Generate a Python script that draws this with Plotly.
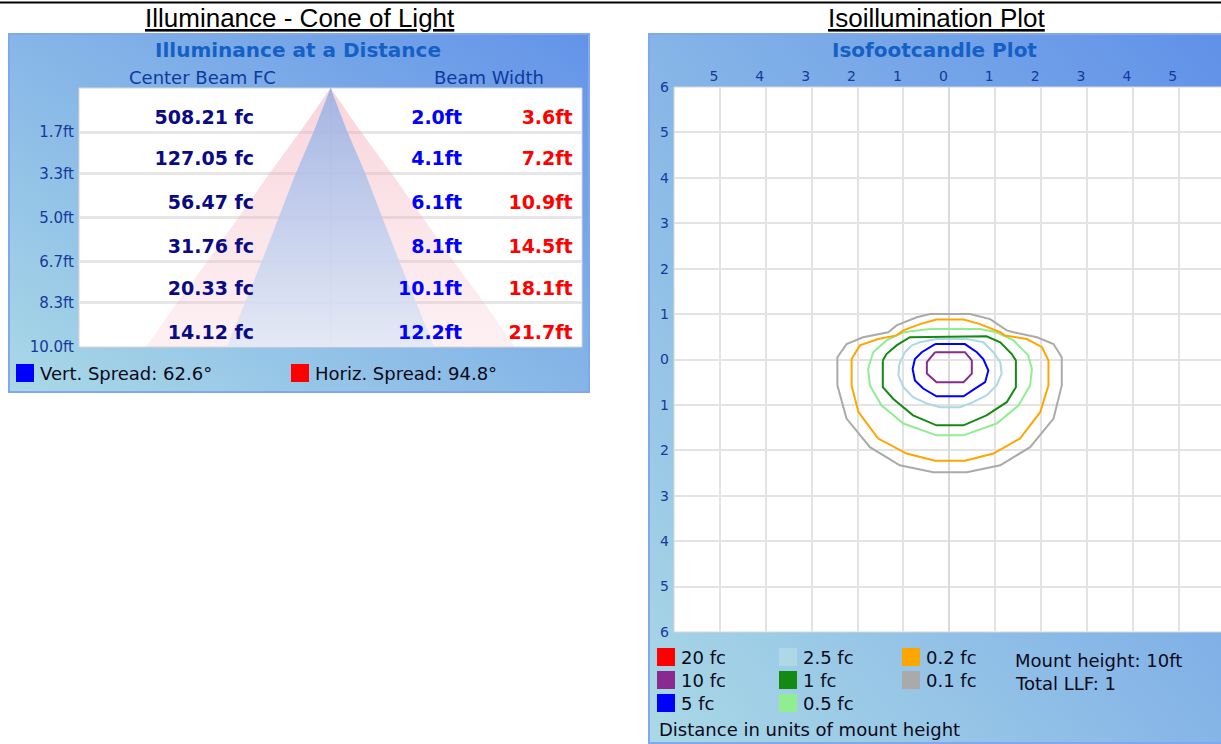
import base64
import plotly.graph_objects as go

# ---------------- data: cone of light ----------------
distances_ft = [1.7, 3.3, 5.0, 6.7, 8.3, 10.0]
distance_labels = ["1.7ft", "3.3ft", "5.0ft", "6.7ft", "8.3ft", "10.0ft"]
center_beam_fc = [508.21, 127.05, 56.47, 31.76, 20.33, 14.12]
beam_width_vert_ft = [2.0, 4.1, 6.1, 8.1, 10.1, 12.2]
beam_width_horiz_ft = [3.6, 7.2, 10.9, 14.5, 18.1, 21.7]
vert_spread_deg = 62.6
horiz_spread_deg = 94.8

# ---------------- data: isofootcandle plot ----------------
iso_levels = ["20 fc", "10 fc", "5 fc", "2.5 fc", "1 fc", "0.5 fc", "0.2 fc", "0.1 fc"]
iso_colors = ["#ff0000", "#8a2a8e", "#0000ff", "#add8e6", "#138a13", "#90ee90", "#ffa500", "#aaaaaa"]
iso_ticks = [-6, -5, -4, -3, -2, -1, 0, 1, 2, 3, 4, 5, 6]
mount_height_ft = 10
total_llf = 1

# traced contour outlines (x, y in units of mount height)
iso_20fc = []
iso_10fc = [(-0.31, 0.16), (0.34, 0.16), (0.49, -0.02), (0.49, -0.31), (0.31, -0.50),
            (-0.28, -0.50), (-0.49, -0.31), (-0.49, -0.06), (-0.31, 0.16)]
iso_5fc = [(-0.31, 0.34), (0.34, 0.34), (0.60, 0.16), (0.74, 0.01), (0.85, -0.24), (0.78, -0.50),
           (0.56, -0.64), (0.31, -0.81), (-0.28, -0.81), (-0.57, -0.64), (-0.75, -0.46),
           (-0.80, -0.21), (-0.75, 0.01), (-0.60, 0.16), (-0.31, 0.34)]
iso_2_5fc = [(-0.82, 0.31), (-0.64, 0.38), (-0.28, 0.45), (0.38, 0.45), (0.74, 0.38), (0.96, 0.16),
             (1.11, -0.06), (1.14, -0.31), (1.03, -0.57), (0.81, -0.79), (0.45, -0.97), (0.23, -1.05),
             (-0.20, -1.05), (-0.49, -0.97), (-0.79, -0.83), (-1.00, -0.61), (-1.11, -0.35),
             (-1.09, -0.10), (-0.97, 0.16), (-0.82, 0.31)]
iso_1fc = [(-1.45, -0.02), (-1.37, 0.12), (-1.15, 0.31), (-0.86, 0.49), (0.81, 0.51), (1.11, 0.38),
           (1.36, 0.12), (1.45, -0.02), (1.45, -0.61), (1.25, -0.94), (0.81, -1.23), (0.31, -1.45),
           (-0.28, -1.45), (-0.79, -1.23), (-1.22, -0.87), (-1.45, -0.61), (-1.45, -0.02)]
iso_0_5fc = [(-1.77, -0.21), (-1.66, 0.16), (-1.37, 0.42), (-1.00, 0.60), (-0.42, 0.67), (0.67, 0.67),
             (1.03, 0.60), (1.40, 0.42), (1.72, 0.09), (1.80, -0.21), (1.76, -0.57), (1.51, -1.01),
             (1.03, -1.41), (0.31, -1.67), (-0.28, -1.67), (-1.00, -1.41), (-1.48, -1.01),
             (-1.73, -0.57), (-1.77, -0.21)]
iso_0_2fc = [(-2.13, -0.57), (-2.13, 0.01), (-1.95, 0.31), (-1.55, 0.45), (-1.15, 0.53), (-1.00, 0.64),
             (-0.64, 0.78), (-0.28, 0.88), (0.31, 0.88), (0.67, 0.78), (1.11, 0.60), (1.21, 0.53),
             (1.69, 0.45), (2.02, 0.27), (2.16, -0.02), (2.16, -0.57), (1.98, -1.16), (1.54, -1.74),
             (0.96, -2.07), (0.34, -2.23), (-0.31, -2.23), (-0.93, -2.07), (-1.55, -1.74),
             (-1.98, -1.16), (-2.13, -0.57)]
iso_0_1fc = [(-2.44, -0.57), (-2.44, 0.05), (-2.24, 0.34), (-1.88, 0.49), (-1.33, 0.60), (-1.15, 0.75),
             (-0.71, 0.93), (-0.42, 1.00), (0.45, 1.00), (0.89, 0.89), (1.25, 0.64), (1.40, 0.60),
             (1.91, 0.49), (2.27, 0.34), (2.45, 0.05), (2.45, -0.57), (2.27, -1.30), (1.76, -1.93),
             (1.11, -2.33), (0.38, -2.48), (-0.35, -2.48), (-1.08, -2.33), (-1.73, -1.93),
             (-2.24, -1.30), (-2.44, -0.57)]
iso_outlines = [iso_20fc, iso_10fc, iso_5fc, iso_2_5fc, iso_1fc, iso_0_5fc, iso_0_2fc, iso_0_1fc]

# ---------------- layout helpers (pixels -> paper) ----------------
W, H = 1221, 744


def px(x):
    return x / W


def py(y):
    return 1 - y / H


UI = "DejaVu Sans"
NAVY_LABEL = "#16399c"


def gradient_svg(w, h, c0, c1):
    svg = (f'<svg xmlns="http://www.w3.org/2000/svg" width="{w}" height="{h}" '
           f'preserveAspectRatio="none" viewBox="0 0 {w} {h}"><defs>'
           f'<linearGradient id="g" x1="0" y1="1" x2="1" y2="0">'
           f'<stop offset="0" stop-color="{c0}"/><stop offset="1" stop-color="{c1}"/>'
           f'</linearGradient></defs><rect width="{w}" height="{h}" fill="url(#g)"/></svg>')
    return "data:image/svg+xml;base64," + base64.b64encode(svg.encode()).decode()


fig = go.Figure()

# ---------------- cone of light ----------------
half_h = [w / 2 for w in beam_width_horiz_ft]
half_v = [w / 2 for w in beam_width_vert_ft]
cone_h_x = [0] + half_h + [-v for v in half_h[::-1]] + [0]
cone_h_y = [0] + distances_ft + distances_ft[::-1] + [0]
cone_v_x = [0] + half_v + [-v for v in half_v[::-1]] + [0]
cone_v_y = [0] + distances_ft + distances_ft[::-1] + [0]

fig.add_trace(go.Scatter(
    x=cone_h_x, y=cone_h_y, mode="lines", fill="toself", line=dict(width=0),
    fillgradient=dict(type="vertical", start=0, stop=10,
                      colorscale=[[0, "rgba(240,160,175,0.45)"], [1, "rgba(245,195,205,0.25)"]]),
    xaxis="x", yaxis="y", hoverinfo="skip", showlegend=False))
fig.add_trace(go.Scatter(
    x=cone_v_x, y=cone_v_y, mode="lines", fill="toself", line=dict(width=0),
    fillgradient=dict(type="vertical", start=0, stop=10,
                      colorscale=[[0, "rgba(150,175,228,0.85)"], [1, "rgba(225,232,246,0.85)"]]),
    xaxis="x", yaxis="y", hoverinfo="skip", showlegend=False))

text_y = [d - 0.5 for d in distances_ft]
fig.add_trace(go.Scatter(
    x=[-4.5] * len(text_y), y=text_y, mode="text", textposition="middle left",
    text=[f"<b>{v:.2f} fc</b>" for v in center_beam_fc],
    textfont=dict(family=UI, size=19, color="#0a0a84"),
    xaxis="x", yaxis="y", hoverinfo="skip", showlegend=False))
fig.add_trace(go.Scatter(
    x=[7.75] * len(text_y), y=text_y, mode="text", textposition="middle left",
    text=[f"<b>{v:.1f}ft</b>" for v in beam_width_vert_ft],
    textfont=dict(family=UI, size=19, color="#0000ff"),
    xaxis="x", yaxis="y", hoverinfo="skip", showlegend=False))
fig.add_trace(go.Scatter(
    x=[14.25] * len(text_y), y=text_y, mode="text", textposition="middle left",
    text=[f"<b>{v:.1f}ft</b>" for v in beam_width_horiz_ft],
    textfont=dict(family=UI, size=19, color="#ff0000"),
    xaxis="x", yaxis="y", hoverinfo="skip", showlegend=False))

# ---------------- isofootcandle contours ----------------
for name, col, pts in zip(iso_levels, iso_colors, iso_outlines):
    fig.add_trace(go.Scatter(
        x=[p[0] for p in pts], y=[p[1] for p in pts], mode="lines", name=name,
        line=dict(color=col, width=2), xaxis="x2", yaxis="y2", showlegend=False))

# ---------------- axes ----------------
fig.update_layout(
    width=W, height=H, autosize=False, margin=dict(l=0, r=0, t=0, b=0, pad=0, autoexpand=False),
    paper_bgcolor="white", plot_bgcolor="rgba(0,0,0,0)",
    xaxis=dict(domain=[px(79), px(582)], range=[-14.8, 14.8], tickvals=[0], showticklabels=False,
               showgrid=True, gridcolor="#e4e4e4", gridwidth=2, zeroline=False, automargin=False),
    yaxis=dict(domain=[py(347), py(88)], range=[10, 0], tickvals=distances_ft, ticktext=distance_labels,
               showgrid=True, gridcolor="#e6e6e6", gridwidth=3, zeroline=False, ticks="", automargin=False,
               tickfont=dict(family=UI, size=15, color=NAVY_LABEL), ticklabelstandoff=4),
    xaxis2=dict(domain=[px(674), 1.0], range=[-6, 5.92], side="top", anchor="y2", automargin=False,
                tickvals=iso_ticks[1:-1], ticktext=[str(abs(t)) for t in iso_ticks[1:-1]],
                showgrid=True, gridcolor="#e3e3e3", gridwidth=2, zeroline=True, zerolinecolor="#d9d9d9",
                zerolinewidth=2, ticks="", ticklabelshift=-6, ticklabelstandoff=2,
                tickfont=dict(family=UI, size=14, color=NAVY_LABEL)),
    yaxis2=dict(domain=[py(632), py(87)], range=[-6, 6], anchor="x2", automargin=False,
                tickvals=iso_ticks, ticktext=[str(abs(t)) for t in iso_ticks],
                showgrid=True, gridcolor="#e3e3e3", gridwidth=2, zeroline=True, zerolinecolor="#e3e3e3",
                zerolinewidth=2, ticks="", ticklabelstandoff=4,
                tickfont=dict(family=UI, size=14, color=NAVY_LABEL)),
)

# ---------------- panel backgrounds ----------------
fig.add_layout_image(dict(source=gradient_svg(580, 358, "#a9d9e6", "#6393e8"), xref="paper", yref="paper",
                          x=px(9), y=py(34), sizex=px(580), sizey=358 / H, sizing="stretch",
                          xanchor="left", yanchor="top", layer="below"))
fig.add_layout_image(dict(source=gradient_svg(580, 710, "#aad9e6", "#6090e8"), xref="paper", yref="paper",
                          x=px(649), y=py(34), sizex=px(580), sizey=710 / H, sizing="stretch",
                          xanchor="left", yanchor="top", layer="below"))

shapes = [
    dict(type="line", xref="paper", yref="paper", x0=0, x1=1, y0=py(2.5), y1=py(2.5),
         line=dict(color="black", width=2)),
    dict(type="rect", xref="paper", yref="paper", x0=px(9), x1=px(589), y0=py(392), y1=py(34),
         line=dict(color="#80a8f0", width=2), layer="below"),
    dict(type="rect", xref="paper", yref="paper", x0=px(649), x1=px(1230), y0=py(743), y1=py(34),
         line=dict(color="#80a8f0", width=2), layer="below"),
    dict(type="rect", xref="x domain", yref="y domain", x0=0, x1=1, y0=0, y1=1,
         fillcolor="white", line=dict(color="#d6d6d6", width=1), layer="below"),
    dict(type="rect", xref="x2 domain", yref="y2 domain", x0=0, x1=1.01, y0=0, y1=1,
         fillcolor="white", line=dict(color="#d6d6d6", width=1), layer="below"),
]

annotations = [
    dict(text="Illuminance - Cone of Light", x=px(300), y=py(18), font=dict(family="Liberation Sans", size=26,
         color="black", lineposition="under")),
    dict(text="Isoillumination Plot", x=px(937), y=py(18), font=dict(family="Liberation Sans", size=26,
         color="black", lineposition="under")),
    dict(text="<b>Illuminance at a Distance</b>", x=px(298), y=py(50),
         font=dict(family=UI, size=20, color="#1560c4")),
    dict(text="<b>Isofootcandle Plot</b>", x=px(934), y=py(50),
         font=dict(family=UI, size=20, color="#1560c4")),
    dict(text="Center Beam FC", x=px(203), y=py(77), font=dict(family=UI, size=18, color="#0d3a9e")),
    dict(text="Beam Width", x=px(489), y=py(77), font=dict(family=UI, size=18, color="#0d3a9e")),
    dict(text=f"Vert. Spread: {vert_spread_deg}°", x=px(38), y=py(373), xanchor="left",
         font=dict(family=UI, size=18, color="#0a0a1a")),
    dict(text=f"Horiz. Spread: {horiz_spread_deg}°", x=px(313), y=py(373), xanchor="left",
         font=dict(family=UI, size=18, color="#0a0a1a")),
    dict(text=f"Mount height: {mount_height_ft}ft", x=px(1013), y=py(660), xanchor="left",
         font=dict(family=UI, size=18, color="#0a0a1a")),
    dict(text=f"Total LLF: {total_llf}", x=px(1013), y=py(683), xanchor="left",
         font=dict(family=UI, size=18, color="#0a0a1a")),
    dict(text="Distance in units of mount height", x=px(657), y=py(729), xanchor="left",
         font=dict(family=UI, size=18, color="#0a0a1a")),
]

# spread swatches
for x0, col in [(16, "#0000ff"), (291, "#ff0000")]:
    shapes.append(dict(type="rect", xref="paper", yref="paper", x0=px(x0), x1=px(x0 + 18),
                       y0=py(382), y1=py(364), fillcolor=col, line=dict(width=0)))

# iso legend (3 rows per column)
col_x = [657, 779, 902]
row_y = [657, 680, 703]
for i, (name, col) in enumerate(zip(iso_levels, iso_colors)):
    cx = col_x[i // 3]
    cy = row_y[i % 3]
    shapes.append(dict(type="rect", xref="paper", yref="paper", x0=px(cx), x1=px(cx + 18),
                       y0=py(cy + 9), y1=py(cy - 9), fillcolor=col, line=dict(width=0)))
    annotations.append(dict(text=name, x=px(cx + 22), y=py(cy), xanchor="left",
                            font=dict(family=UI, size=18, color="#0a0a1a")))

for a in annotations:
    a.setdefault("xref", "paper")
    a.setdefault("yref", "paper")
    a.setdefault("showarrow", False)
    a.setdefault("xanchor", "center")
    a.setdefault("yanchor", "middle")

fig.update_layout(shapes=shapes, annotations=annotations)
fig.write_html(
    "out.html",
    config={"responsive": False, "displayModeBar": False},
    post_script=(
        "var d=document.getElementById('{plot_id}');"
        "d.style.position='fixed';d.style.top='0px';d.style.left='0px';"
        "document.body.style.margin='0';document.documentElement.style.overflow='hidden';"
    ),
)
